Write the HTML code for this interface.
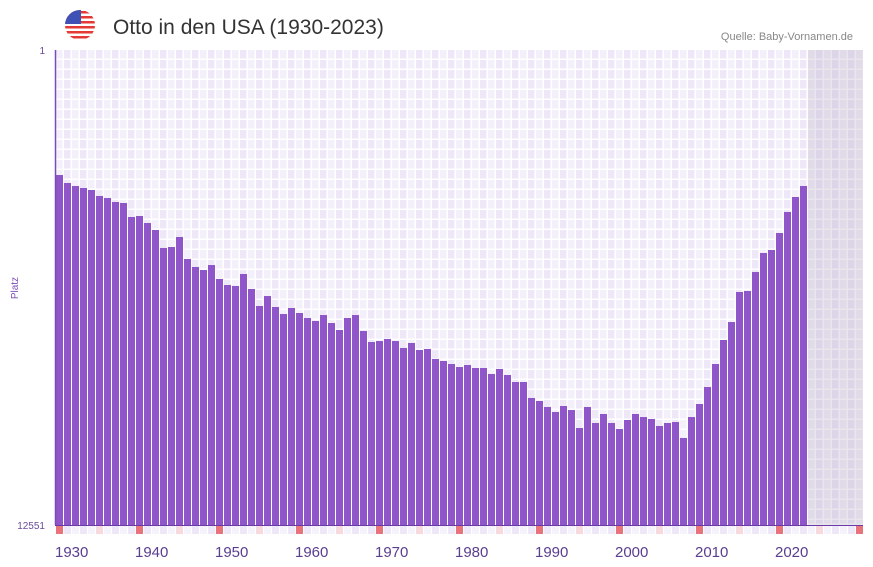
<!DOCTYPE html>
<html><head><meta charset="utf-8"><style>
body{margin:0;background:#fff;font-family:"Liberation Sans","DejaVu Sans",sans-serif}
svg{display:block}
</style></head><body>
<svg id="c" width="873" height="567" xmlns="http://www.w3.org/2000/svg">
<g>
<clipPath id="fc"><circle cx="80" cy="25" r="15"/></clipPath>
<g clip-path="url(#fc)">
<rect x="65" y="10" width="30" height="30" fill="#fff"/>
<rect x="65" y="11" width="30" height="2.5" fill="#e53935"/>
<rect x="65" y="16" width="30" height="2.5" fill="#e53935"/>
<rect x="65" y="21" width="30" height="2.5" fill="#e53935"/>
<rect x="65" y="26" width="30" height="2.5" fill="#e53935"/>
<rect x="65" y="31" width="30" height="2.5" fill="#e53935"/>
<rect x="65" y="36" width="30" height="2.5" fill="#e53935"/>
<rect x="65" y="10" width="16" height="14" fill="#3f51b5"/>
</g></g>
<text x="113" y="34" font-size="21" fill="#333">Otto in den USA (1930-2023)</text>
<text x="853" y="40" font-size="11" fill="#888" text-anchor="end">Quelle: Baby-Vornamen.de</text>
<g id="grid"></g>
<g id="bars"></g>
<g id="strip"></g>
<g id="axes"></g>
</svg>
<script>
const years = [];
for (let y = 1930; y <= 2023; y++) years.push(y);
const ranks = [3304,3515,3594,3647,3700,3858,3911,4017,4043,4413,4387,4572,4757,5232,5206,4942,5523,5734,5814,5682,6051,6210,6236,5919,6316,6765,6501,6791,6976,6818,6950,7082,7161,7003,7214,7399,7082,7003,7425,7716,7690,7637,7690,7874,7742,7927,7901,8165,8218,8297,8377,8324,8403,8403,8561,8429,8588,8773,8773,9195,9275,9433,9565,9407,9513,9988,9433,9856,9618,9856,10015,9777,9618,9698,9750,9935,9856,9830,10252,9698,9354,8905,8297,7663,7188,6395,6368,5867,5364,5285,4836,4281,3885,3594];
const yTicks = [1, 12551];
const xTicks = [1930,1940,1950,1960,1970,1980,1990,2000,2010,2020];
const X0 = 56, SW = 8, Y0 = 50, Y1 = 525, MINR = 1, MAXR = 12551;
const NS = 'http://www.w3.org/2000/svg';
function xs(yr){ return X0 + (yr - 1930) * SW; }
function ys(r){ return Y0 + (r - MINR) / (MAXR - MINR) * (Y1 - Y0); }
function mk(tag, at, parent){ const e = document.createElementNS(NS, tag); for (const k in at) e.setAttribute(k, at[k]); document.getElementById(parent).appendChild(e); return e; }
for (let i = 0; i < 101; i++) {
  for (let r = 0; r < 48; r++) {
    const yy = Y0 + r * 10;
    const h = Math.min(10, Y1 - yy);
    if (h <= 0) continue;
    const e = mk('rect', {x: X0 + i * SW, y: yy, width: SW - 1.5, height: h - 1.5, fill: i % 2 ? '#ede7f8' : '#f3effb'}, 'grid');
    
    
  }
}
const sh = mk('rect', {x: xs(2024), y: Y0, width: 863 - xs(2024), height: Y1 - Y0, fill: 'rgba(190,180,200,0.35)'}, 'grid');


years.forEach((yr, i) => {
  const top = ys(ranks[i]);
  const b = mk('rect', {x: xs(yr), y: top, width: SW - 1, height: Y1 - top, fill: '#8e56c8'}, 'bars');
  
  
});
for (let i = 0; i < 101; i++) {
  const yr = 1930 + i;
  let f = i % 2 ? '#ede7f8' : '#f6f2fc';
  if (yr % 10 === 0) f = '#e8737a'; else if (yr % 5 === 0) f = '#f7d9e0';
  const s = mk('rect', {x: X0 + i * SW, y: Y1 + 1, width: SW - 1, height: 8, fill: f}, 'strip');
  
  
}
const la = mk('line', {x1: 55.5, y1: Y0, x2: 55.5, y2: Y1, stroke: '#7b4cb8', 'stroke-width': 1.5}, 'axes');


const ba = mk('line', {x1: 55, y1: Y1 + 0.5, x2: 863, y2: Y1 + 0.5, stroke: '#6a3aa8', 'stroke-width': 1}, 'axes');


yTicks.forEach(v => {
  const t = mk('text', {x: 45, y: ys(v) + 4, 'font-size': 10, fill: '#6a4a9a', 'text-anchor': 'end'}, 'axes');
  t.textContent = v;
  
  
});
xTicks.forEach(v => {
  const t = mk('text', {x: xs(v) - 1, y: 557, 'font-size': 15, fill: '#5a3d8f'}, 'axes');
  t.textContent = v;
  
  
});
const yl = mk('text', {x: 0, y: 0, 'font-size': 10, fill: '#7b4cb8', 'text-anchor': 'middle', transform: 'translate(18,288) rotate(-90)'}, 'axes');
yl.textContent = 'Platz';


</script>
</body></html>
